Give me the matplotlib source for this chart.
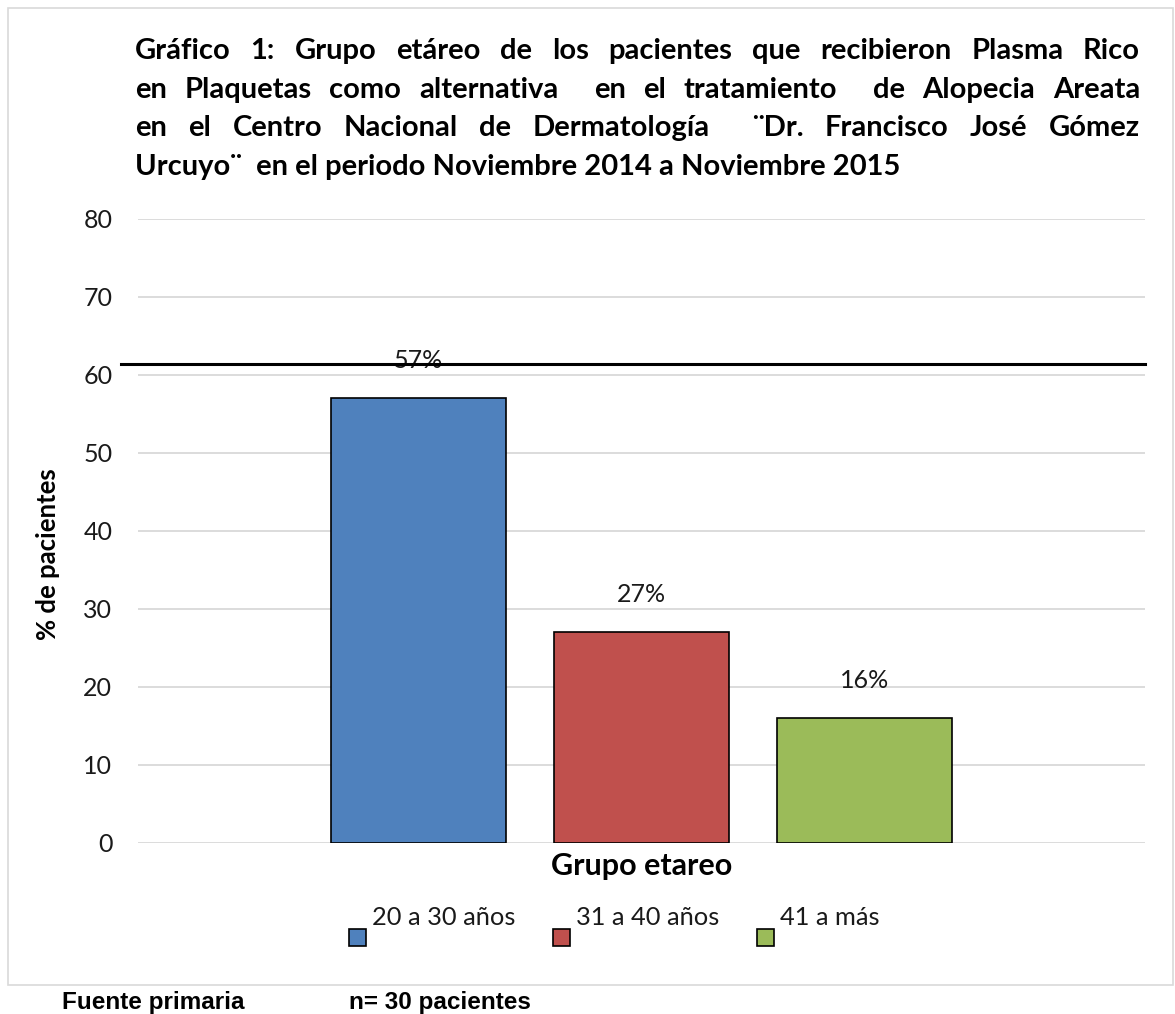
import matplotlib
matplotlib.use('Agg')
import matplotlib.pyplot as plt
from matplotlib.patches import Rectangle

# data
groups = ['20 a 30 años', '31 a 40 años', '41 a más']
percent = [57, 27, 16]
colors = ['#4F81BD', '#C0504D', '#9BBB59']
ref_line = 61.4
yticks = [0, 10, 20, 30, 40, 50, 60, 70, 80]

title_lines = [
    'Gráfico 1: Grupo etáreo de los pacientes que recibieron Plasma Rico',
    'en Plaquetas como alternativa  en el tratamiento  de Alopecia Areata',
    'en el Centro Nacional de Dermatología  ¨Dr. Francisco José Gómez',
    'Urcuyo¨  en el periodo Noviembre 2014 a Noviembre 2015',
]

W, H = 1175, 1014
plt.rcParams['font.family'] = ['Lato', 'DejaVu Sans']
TITLE_FS = 21

fig = plt.figure(figsize=(W / 100, H / 100), dpi=100)
ax = fig.add_axes([138 / W, 1 - 843 / H, (1145 - 138) / W, (843 - 219) / H])

def fx(px):
    return px / W

def fy(py):
    return 1 - py / H

# outer chart border
fig.patches.append(Rectangle((fx(8), fy(985)), fx(1173) - fx(8), fy(8) - fy(985),
                             transform=fig.transFigure, fill=False,
                             edgecolor='#d9d9d9', linewidth=1.2))

x = list(range(len(groups)))
bars = ax.bar(x, percent, width=0.785, color=colors, edgecolor='black',
              linewidth=1.2, zorder=3)
for b, v in zip(bars, percent):
    ax.annotate(f'{v}%', (b.get_x() + b.get_width() / 2, v),
                xytext=(0, 27), textcoords='offset points',
                ha='center', va='center', fontsize=18, color='#1a1a1a', zorder=4)

ax.set_xlim(-1.258, 3.258)
ax.set_ylim(0, 80)
ax.set_yticks(yticks)
ax.yaxis.grid(True, color='#d9d9d9', linewidth=1.3, zorder=0)
ax.set_axisbelow(True)
ax.tick_params(axis='y', length=0, pad=18.5, labelsize=18, labelcolor='#1a1a1a')
ax.set_xticks([])
for s in ax.spines.values():
    s.set_visible(False)

ax.axhline(ref_line, xmin=-0.017, xmax=1.0, color='black', linewidth=2.2,
           clip_on=False, zorder=5)

# axis labels
fig.text(fx(48), fy(554), '% de pacientes', rotation=90, ha='center', va='center',
         fontsize=18.5, fontweight='bold')
fig.text(fx(642), fy(875), 'Grupo etareo', ha='center', va='baseline',
         fontsize=22, fontweight='bold')

# legend
for i, (g, c) in enumerate(zip(groups, colors)):
    left = 349 + 204 * i
    fig.patches.append(Rectangle((fx(left), fy(946)), 17 / W, 17 / H,
                                 transform=fig.transFigure, facecolor=c,
                                 edgecolor='black', linewidth=1.2))
    fig.text(fx(left + 23), fy(925), g, ha='left', va='baseline', fontsize=18.3,
             color='#1a1a1a')

# justified title
renderer = fig.canvas.get_renderer()
x0, x1 = 135, 1140
for i, line in enumerate(title_lines):
    base = 59 + 38.7 * i
    if i == len(title_lines) - 1:
        fig.text(fx(x0), fy(base), line, ha='left', va='baseline',
                 fontsize=TITLE_FS, fontweight='bold')
        continue
    words = line.split(' ')
    widths = []
    for w in words:
        if w == '':
            widths.append(0)
            continue
        t = fig.text(0, 0, w, fontsize=TITLE_FS, fontweight='bold')
        widths.append(t.get_window_extent(renderer).width)
        t.remove()
    gap = (x1 - x0 - sum(widths)) / (len(words) - 1)
    pos = x0
    for w, wd in zip(words, widths):
        if w:
            fig.text(fx(pos), fy(base), w, ha='left', va='baseline',
                     fontsize=TITLE_FS, fontweight='bold')
        pos += wd + gap

# footer
fig.text(fx(62), fy(1009), 'Fuente primaria', ha='left', va='baseline',
         fontsize=17.5, fontweight='bold', family='Liberation Sans')
fig.text(fx(349), fy(1009), 'n= 30 pacientes', ha='left', va='baseline',
         fontsize=17.5, fontweight='bold', family='Liberation Sans')

fig.savefig('out.png', dpi=100)
